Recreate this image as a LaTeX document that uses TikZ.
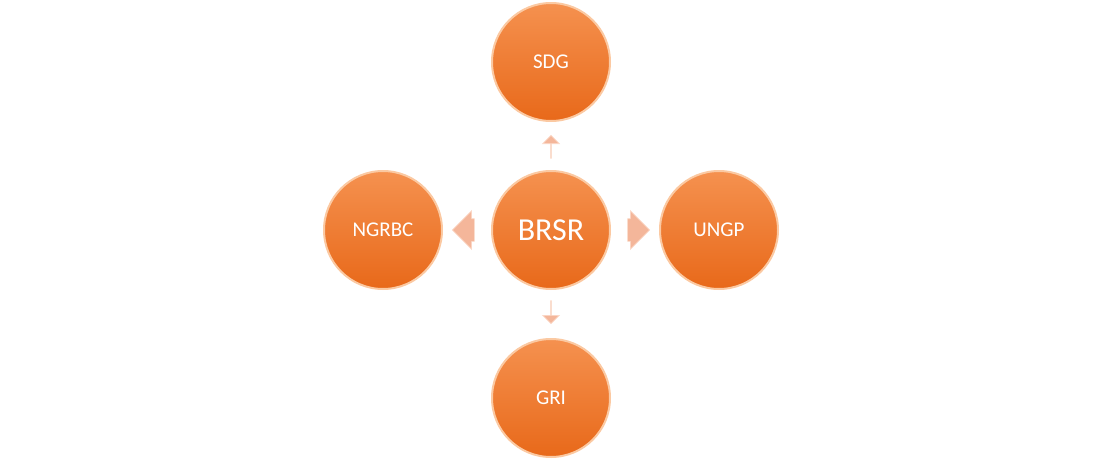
\documentclass[tikz,border=0pt]{standalone}
\usepackage{fontspec}
\setmainfont{Carlito}
\usetikzlibrary{shapes.arrows}
\definecolor{otop}{HTML}{F5914F}
\definecolor{obot}{HTML}{E8691A}
\definecolor{orim}{HTML}{FBC9A2}
\definecolor{atop}{HTML}{FBD9C8}
\definecolor{abot}{HTML}{F4B69A}
\begin{document}
\begin{tikzpicture}[x=1pt,y=-1pt,
  ball/.style={circle,minimum size=118pt,inner sep=0pt,top color=otop,bottom color=obot,draw=orim,line width=2pt,text=white,font=\fontsize{21}{25}\selectfont},
  barrow/.style={single arrow,single arrow head extend=8pt,single arrow head indent=0pt,minimum height=22pt,inner xsep=0pt,inner ysep=11pt,fill=abot,draw=atop,line width=0.6pt,shape border rotate=#1}]
\useasboundingbox (0,0) rectangle (1104,461);
\node[ball,font=\fontsize{32}{38}\selectfont] (brsr) at (551,230) {BRSR};
\node[ball] (sdg) at (551,62) {SDG};
\node[ball] (gri) at (551,398) {GRI};
\node[ball] (ngrbc) at (383,230) {NGRBC};
\node[ball] (ungp) at (719,230) {UNGP};
\node[barrow=90] (au) at (551,147) {};
\node[barrow=270] (ad) at (551,312) {};
\node[barrow=0] (ar) at (633,230) {};
\node[barrow=180] (al) at (469,230) {};
\end{tikzpicture}
\end{document}
